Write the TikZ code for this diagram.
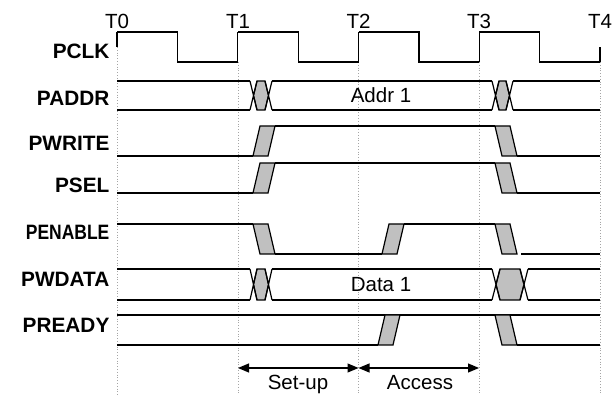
\documentclass[tikz,border=0pt]{standalone}
\usepackage{fontspec}
\setmainfont{Liberation Sans}
\usepackage{tikz}
\usetikzlibrary{arrows.meta}

\definecolor{edgegrey}{RGB}{192,192,192}
\definecolor{gridgrey}{RGB}{165,165,165}

% bus change: x0, slope, hold, top, bottom
\newcommand{\busX}[5]{
    \filldraw[fill=edgegrey] ({#1+#2/2},{(#4+#5)/2}) -- ({#1+#2},#4) -- ({#1+#2+#3},#4)
        -- ({#1+1.5*#2+#3},{(#4+#5)/2}) -- ({#1+#2+#3},#5) -- ({#1+#2},#5) -- cycle;
    \draw (#1,#4) -- ({#1+#2},#5) (#1,#5) -- ({#1+#2},#4);
    \draw ({#1+#2+#3},#4) -- ({#1+2*#2+#3},#5) ({#1+#2+#3},#5) -- ({#1+2*#2+#3},#4);
}
% single edge: bottom left x, bottom y, top left x, top y
\newcommand{\edgeP}[4]{
    \filldraw[fill=edgegrey] (#1,#2) -- ({#1+15},#2) -- ({#3+15},#4) -- (#3,#4) -- cycle;
}

\begin{document}
\begin{tikzpicture}[x=1pt, y=-1pt, line width=1.2pt,
    every node/.style={font=\fontsize{20.5}{24}\selectfont, inner sep=0pt},
    siglabel/.style={anchor=base east, font=\fontsize{20.8}{24}\selectfont\bfseries}]
    \useasboundingbox (0,0) rectangle (614,395);

    % Clock grid
    \draw[gridgrey, line width=0.8pt, dotted] (117,47) -- (117,395);
    \foreach \t in {238,358.5,479,600} {
        \draw[gridgrey, line width=0.8pt, dotted] (\t,62) -- (\t,395);
    }
    \foreach \t/\n in {117/0, 238/1, 358.5/2, 479/3, 600/4} {
        \node[anchor=base] (t\n) at (\t,28.5) {T\n};
    }

    % Signal names
    \node[siglabel] (pclk) at (110,59) {PCLK};
    \node[siglabel] (paddr) at (110,106) {PADDR};
    \node[siglabel] (pwrite) at (110,151) {PWRITE};
    \node[siglabel] (psel) at (110,193) {PSEL};
    \node[siglabel] (penable) at (110,240) {\scalebox{0.84}[1]{PENABLE}};
    \node[siglabel] (pwdata) at (110,287) {PWDATA};
    \node[siglabel] (pready) at (110,333) {PREADY};

    % PCLK
    \draw (117,47) -- (117,32);
    \foreach \t in {117,237.75,358.5,479.25} {
        \draw (\t,32) -- ({\t+60.4},32) -- ({\t+60.4},62) -- ({\t+120.75},62);
    }
    \foreach \t in {237.75,358.5,479.25} {
        \draw (\t,62) -- (\t,32);
    }
    \draw (600,62) -- (600,47);

    % PADDR
    \draw (117,81) -- (250,81) (117,110) -- (250,110);
    \busX{250}{7}{8}{81}{110}
    \draw (272,81) -- (492,81) (272,110) -- (492,110);
    \busX{492}{7}{7}{81}{110}
    \draw (513,81) -- (600,81) (513,110) -- (600,110);
    \node[anchor=base] (addr) at (381,103) {Addr 1};

    % PWRITE
    \draw (117,156) -- (253,156);
    \edgeP{253}{156}{260}{126}
    \draw (275,126) -- (495,126);
    \edgeP{502}{156}{495}{126}
    \draw (517,156) -- (600,156);

    % PSEL
    \draw (117,193) -- (253,193);
    \edgeP{253}{193}{260}{163}
    \draw (275,163) -- (495,163);
    \edgeP{502}{193}{495}{163}
    \draw (517,193) -- (600,193);

    % PENABLE
    \draw (117,224) -- (253,224);
    \edgeP{260}{254}{253}{224}
    \draw (275,254) -- (382,254);
    \edgeP{382}{254}{389}{224}
    \draw (404,224) -- (495,224);
    \edgeP{502}{254}{495}{224}
    \draw (521,254) -- (600,254);

    % PWDATA
    \draw (117,269) -- (250,269) (117,300) -- (250,300);
    \busX{250}{7}{8}{269}{300}
    \draw (272,269) -- (492,269) (272,300) -- (492,300);
    \busX{492}{8}{20}{269}{300}
    \draw (528,269) -- (600,269) (528,300) -- (600,300);
    \node[anchor=base] (data) at (381,292) {Data 1};

    % PREADY
    \draw (117,315) -- (600,315);
    \draw (117,345) -- (378,345);
    \edgeP{378}{345}{385}{315}
    \edgeP{502}{345}{495}{315}
    \draw (517,345) -- (600,345);

    % Phases
    \coordinate (p1) at (238,368);
    \coordinate (p2) at (358.5,368);
    \coordinate (p3) at (479,368);
    \draw[{Triangle[length=11pt,width=9pt]}-{Triangle[length=11pt,width=9pt]}] (p1) -- (p2);
    \draw[{Triangle[length=11pt,width=9pt]}-{Triangle[length=11pt,width=9pt]}] (p2) -- (p3);
    \node[anchor=base] (setup) at (298,389.5) {Set-up};
    \node[anchor=base] (access) at (420,389.5) {Access};
\end{tikzpicture}
\end{document}
